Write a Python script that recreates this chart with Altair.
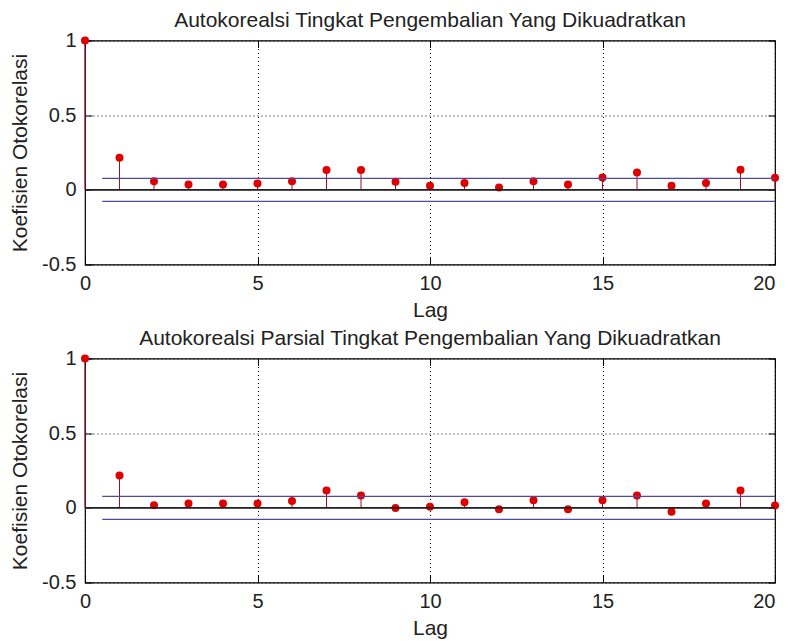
import altair as alt
import pandas as pd

LAGS = list(range(21))
ACF = [1.0, 0.215, 0.058, 0.036, 0.036, 0.043, 0.058, 0.132, 0.132, 0.054, 0.027,
       0.045, 0.016, 0.058, 0.036, 0.083, 0.116, 0.027, 0.045, 0.134, 0.081]
PACF = [1.0, 0.217, 0.018, 0.029, 0.029, 0.029, 0.045, 0.116, 0.083, -0.001, 0.007,
        0.038, -0.009, 0.051, -0.009, 0.051, 0.083, -0.027, 0.029, 0.116, 0.016]
BOUND = 0.077
BOUND_START = 0.5
X_TICKS = [0, 5, 10, 15, 20]
Y_TICKS = [-0.5, 0, 0.5, 1]
TITLES = ["Autokorealsi Tingkat Pengembalian Yang Dikuadratkan",
          "Autokorealsi Parsial Tingkat Pengembalian Yang Dikuadratkan"]
X_LABEL = "Lag"
Y_LABEL = "Koefisien Otokorelasi"

FONT = "Liberation Sans"
TXT = "#222222"
W, H = 690, 224
TICK = 7


def panel(vals, title):
    stems = pd.DataFrame({"lag": LAGS, "val": vals, "base": [0] * len(LAGS)})
    zero = pd.DataFrame({"x0": [X_TICKS[0]], "x1": [X_TICKS[-1]], "y": [0]})
    bounds = pd.DataFrame({"x0": [BOUND_START] * 2, "x1": [X_TICKS[-1]] * 2,
                           "y": [BOUND, -BOUND]})
    xs = alt.Scale(domain=[X_TICKS[0], X_TICKS[-1]], nice=False, zero=False)
    ys = alt.Scale(domain=[Y_TICKS[0], Y_TICKS[-1]], nice=False, zero=False)

    grid_common = dict(grid=True, gridColor="#000000", gridDash=[1, 3], gridWidth=1,
                       labels=False, ticks=False, domain=False, title=None,
                       minExtent=0, maxExtent=0)
    grid_x = alt.Axis(orient="bottom", values=X_TICKS, **grid_common)
    grid_y = alt.Axis(orient="left", values=Y_TICKS, **grid_common)

    lab_common = dict(offset=-TICK, tickSize=TICK, tickColor="#000000", tickWidth=1,
                      labels=True, labelFont=FONT, labelFontSize=20, labelColor=TXT,
                      labelPadding=9, labelExpr="'' + datum.value", labelFlush=False,
                      labelOverlap=False, grid=False, domain=False, minExtent=0,
                      titleFont=FONT, titleFontSize=21,
                      titleFontWeight="normal", titleColor=TXT)
    main_x = alt.Axis(orient="bottom", values=X_TICKS, title=X_LABEL, titlePadding=6,
                      labelAlign={"condition": {"test": f"datum.value >= {X_TICKS[-1]}",
                                                "value": "right"},
                                  "value": "center"},
                      **lab_common)
    main_y = alt.Axis(orient="left", values=Y_TICKS, title=Y_LABEL, titlePadding=11,
                      **lab_common)

    tick_common = dict(offset=-TICK, tickSize=TICK, tickColor="#000000", tickWidth=1,
                       labels=False, grid=False, domain=False, title=None,
                       minExtent=0, maxExtent=0)
    top_x = alt.Axis(orient="top", values=X_TICKS, **tick_common)
    right_y = alt.Axis(orient="right", values=Y_TICKS, **tick_common)

    grid_layer = alt.Chart(zero).mark_rule(opacity=0).encode(
        x=alt.X("x0:Q", scale=xs, axis=grid_x), x2="x1",
        y=alt.Y("y:Q", scale=ys, axis=grid_y))
    stem_layer = alt.Chart(stems).mark_rule(color="#a01020", strokeWidth=1).encode(
        x=alt.X("lag:Q", scale=xs, axis=main_x),
        y=alt.Y("base:Q", scale=ys, axis=main_y), y2="val")
    point_layer = alt.Chart(stems).mark_circle(size=64, color="#e00000", opacity=1).encode(
        x=alt.X("lag:Q", scale=xs, axis=None),
        y=alt.Y("val:Q", scale=ys, axis=None))
    bound_layer = alt.Chart(bounds).mark_rule(color="#4a4aa8", strokeWidth=1.3).encode(
        x=alt.X("x0:Q", scale=xs, axis=top_x), x2="x1",
        y=alt.Y("y:Q", scale=ys, axis=right_y))
    zero_layer = alt.Chart(zero).mark_rule(color="#222222", strokeWidth=1.6).encode(
        x=alt.X("x0:Q", scale=xs, axis=None), x2="x1",
        y=alt.Y("y:Q", scale=ys, axis=None))

    return alt.layer(grid_layer, stem_layer, point_layer, bound_layer, zero_layer).resolve_axis(
        x="independent", y="independent"
    ).properties(
        width=W, height=H,
        title=alt.TitleParams(text=title, font=FONT, fontSize=21, fontWeight="normal",
                              color=TXT, offset=-17, baseline="alphabetic",
                              anchor="middle", frame="group"))


chart = alt.vconcat(panel(ACF, TITLES[0]), panel(PACF, TITLES[1]), spacing=5).configure_view(
    stroke="#000000", strokeWidth=1.2
).properties(padding={"left": 0, "top": 0.5, "right": 0, "bottom": 0})

chart.save("out.html", embed_options={"renderer": "svg", "actions": False})
